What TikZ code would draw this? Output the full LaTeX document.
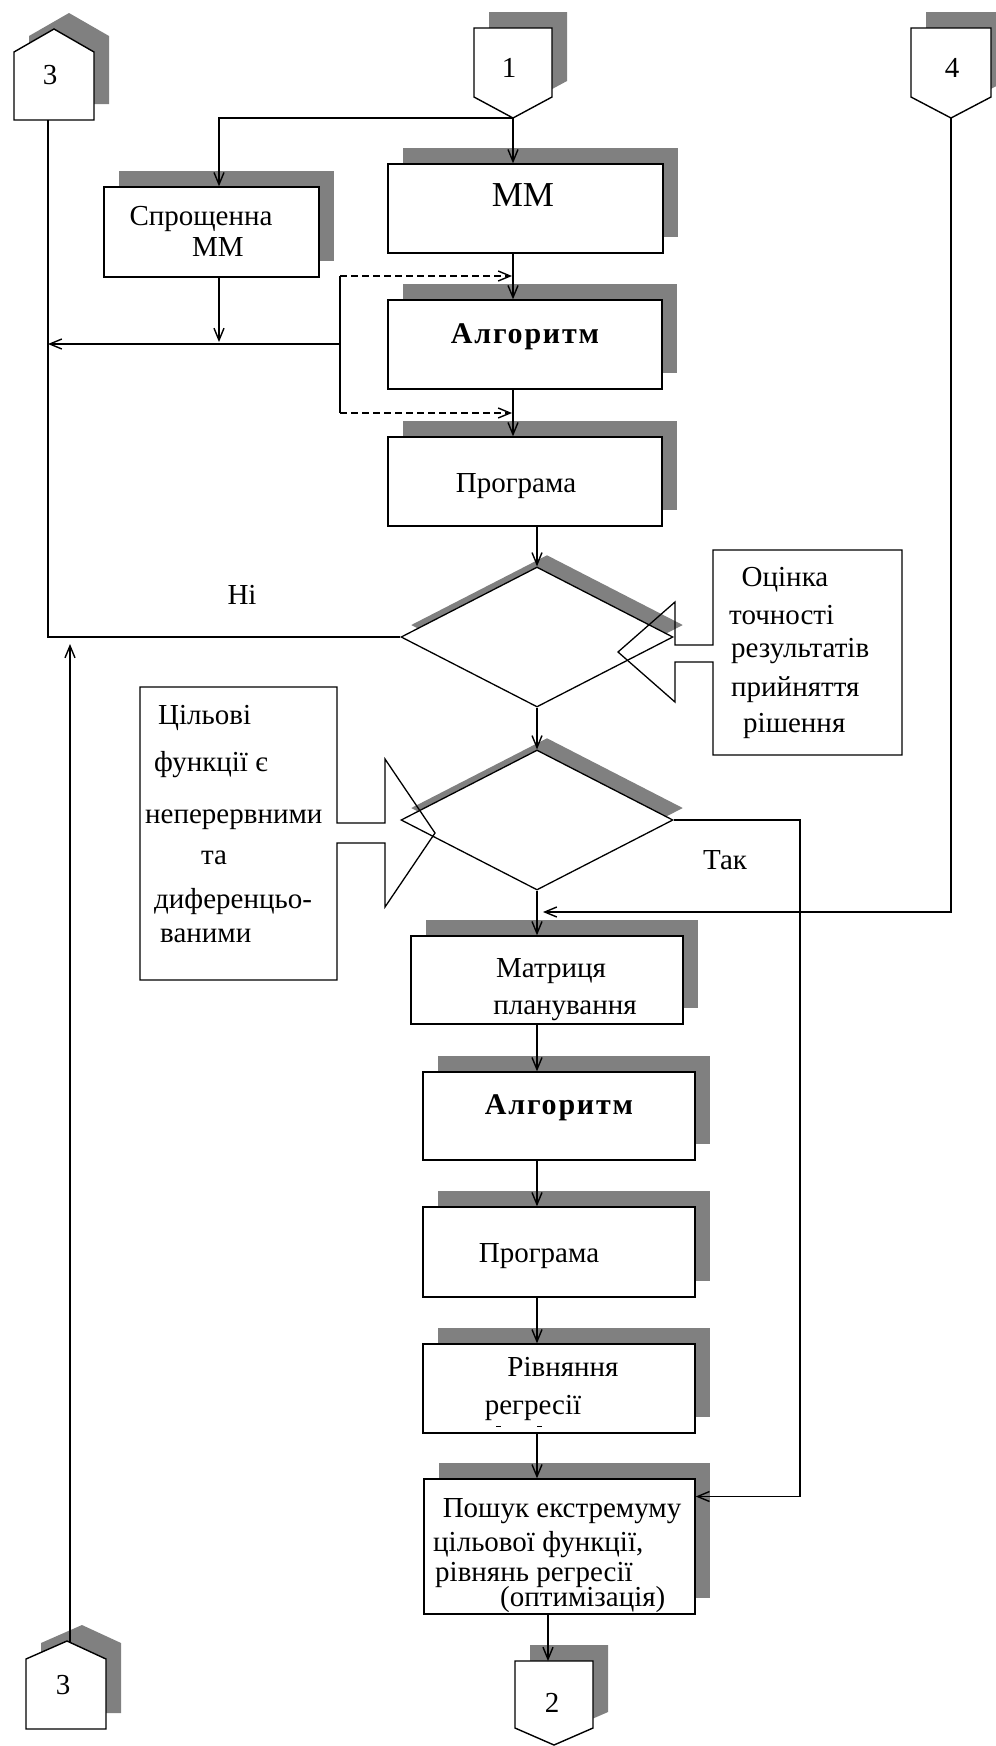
\documentclass[tikz,border=0pt]{standalone}
\usepackage{fontspec}
\setmainfont{Liberation Serif}
\usetikzlibrary{arrows.meta,shapes.geometric,shadows,calc}
\definecolor{shgray}{RGB}{128,128,128}
\begin{document}
\begin{tikzpicture}[x=1pt,y=-1pt,
  ln/.style={line width=1.4pt},
  arr/.style={line width=1.4pt,-{Straight Barb[length=12pt,width=10pt]}},
  shd/.style={drop shadow={shadow xshift=15pt,shadow yshift=16pt,opacity=1,fill=shgray}},
  dshd/.style={drop shadow={shadow xshift=10pt,shadow yshift=12pt,opacity=1,fill=shgray}},
  box/.style={draw,fill=white,line width=1.4pt,inner sep=0pt,shd},
  dec/.style={diamond,draw,fill=white,line width=1.3pt,inner sep=0pt,minimum width=272pt,minimum height=140pt,dshd},
  txt/.style={inner sep=0pt,text height=19pt,text depth=0pt,font=\fontsize{29}{34}\selectfont},
  big/.style={inner sep=0pt,text height=23pt,text depth=0pt,font=\fontsize{35}{40}\selectfont},
  alg/.style={inner sep=0pt,text height=20pt,text depth=0pt,font=\fontsize{30}{36}\selectfont\bfseries\addfontfeature{LetterSpace=6.0}}
]
\fill[white] (0,0) rectangle (996,1746);
\useasboundingbox (0,0) rectangle (996,1746);

% ---------- off-page connectors ----------
\path[draw,fill=white,line width=1.4pt,shd] (14,52) -- (54,29) -- (94,52) -- (94,120) -- (14,120) -- cycle;
\node[txt] (c3a) at (50,75) {3};
\coordinate (c3b) at (48,120);

\path[draw,fill=white,line width=1.4pt,shd] (474,28) -- (552,28) -- (552,97) -- (513,118) -- (474,97) -- cycle;
\node[txt] (c1) at (509,68) {1};
\coordinate (c1tip) at (513,118);

\path[draw,fill=white,line width=1.4pt,shd] (911,28) -- (991,28) -- (991,97) -- (951,118) -- (911,97) -- cycle;
\node[txt] (c4) at (952,68) {4};
\coordinate (c4tip) at (951,118);

\path[draw,fill=white,line width=1.4pt,shd] (26,1659) -- (67,1641) -- (106,1659) -- (106,1729) -- (26,1729) -- cycle;
\node[txt] (c3c) at (63,1685) {3};
\coordinate (c3t) at (70,1642);

\path[draw,fill=white,line width=1.4pt,shd] (515,1661) -- (593,1661) -- (593,1728) -- (554,1745) -- (515,1728) -- cycle;
\node[txt] (c2) at (552,1703) {2};
\coordinate (c2top) at (548,1661);

% ---------- process boxes ----------
\node[box,minimum width=215pt,minimum height=90pt] (spr) at (211.5,232) {};
\node[txt] (sprA) at (201,216) {Спрощенна};
\node[txt] (sprB) at (218,247) {ММ};

\node[box,minimum width=275pt,minimum height=89pt] (mm) at (525.5,208.5) {};
\node[big] (mmT) at (523,195) {ММ};

\node[box,minimum width=274pt,minimum height=89pt] (alg1) at (525,344.5) {};
\node[alg] (alg1T) at (525,333) {Алгоритм};

\node[box,minimum width=274pt,minimum height=89pt] (prog1) at (525,481.5) {};
\node[txt] (prog1T) at (516,483) {Програма};

\node[box,minimum width=272pt,minimum height=88pt] (matr) at (547,980) {};
\node[txt] (matrA) at (551,968) {Матриця};
\node[txt] (matrB) at (565,1005) {планування};

\node[box,minimum width=272pt,minimum height=88pt] (alg2) at (559,1116) {};
\node[alg] (alg2T) at (559,1104) {Алгоритм};

\node[box,minimum width=272pt,minimum height=90pt] (prog2) at (559,1252) {};
\node[txt] (prog2T) at (539,1253) {Програма};

\node[box,minimum width=272pt,minimum height=89pt] (rivn) at (559,1388.5) {};
\node[txt] (rivnA) at (563,1367) {Рівняння};
\node[txt] (rivnB) at (533,1405) {регресії};
\draw[line width=1pt] (496,1426) -- (501,1426) (537,1426) -- (542,1426);

\node[box,minimum width=271pt,minimum height=135pt] (posh) at (559.5,1546.5) {};
\node[txt] (poshA) at (562,1508) {Пошук екстремуму};
\node[txt,anchor=west] (poshB) at (433,1542) {цільової функції,};
\node[txt,anchor=west] (poshC) at (435,1572) {рівнянь регресії};
\node[txt,anchor=west] (poshD) at (500,1597) {(оптимізація)};

% ---------- decisions ----------
\node[dec] (d1) at (537,637) {};
\node[dec] (d2) at (537,820) {};

% ---------- callouts ----------
\draw[line width=1.3pt] (713,645) -- (675,645) -- (675,602) -- (618,652) -- (675,702) -- (675,662) -- (713,662)
  -- (713,755) -- (902,755) -- (902,550) -- (713,550) -- cycle;
\node[txt] (ocA) at (785,577) {Оцінка};
\node[txt,anchor=west] (ocB) at (729,615) {точності};
\node[txt,anchor=west] (ocC) at (731,648) {результатів};
\node[txt,anchor=west] (ocD) at (731,687) {прийняття};
\node[txt,anchor=west] (ocE) at (743,723) {рішення};

\draw[line width=1.3pt] (337,823) -- (385,823) -- (385,759) -- (435,833) -- (385,907) -- (385,843) -- (337,843)
  -- (337,980) -- (140,980) -- (140,687) -- (337,687) -- cycle;
\node[txt,anchor=west] (ciA) at (158,715) {Цільові};
\node[txt,anchor=west] (ciB) at (154,762) {функції є};
\node[txt,anchor=west] (ciC) at (145,814) {неперервними};
\node[txt] (ciD) at (214,855) {та};
\node[txt,anchor=west] (ciE) at (154,899) {диференцьо-};
\node[txt,anchor=west] (ciF) at (160,933) {ваними};

% ---------- labels ----------
\node[txt] (ni) at (242,595) {Ні};
\node[txt] (tak) at (725,860) {Так};

% ---------- connectors ----------
\draw[arr] (c1tip) -- (c1tip |- mm.north);
\draw[arr] (c1tip) -| ($(spr.north)+(7.5,0)$);
\draw[arr] (mm.south -| c1tip) -- (alg1.north -| c1tip);
\draw[arr] (alg1.south -| c1tip) -- (prog1.north -| c1tip);

\coordinate (dtop) at (340,276);
\coordinate (dbot) at (340,413);
\coordinate (jx) at (340,344);
\draw[arr,dash pattern=on 7pt off 4pt] (dtop) -- ($(dtop -| c1tip)+(-1,0)$);
\draw[ln] (dtop) -- (dbot);
\draw[arr,dash pattern=on 7pt off 4pt] (dbot) -- ($(dbot -| c1tip)+(-1,0)$);
\draw[arr] (jx) -- (jx -| c3b);
\draw[arr] ($(spr.south)+(7.5,0)$) -- ($(jx -| spr.south)+(7.5,-2)$);
\draw[ln] (c3b) -- (c3b |- d1.west) -- (d1.west);
\draw[arr] (c3t) -- ($(c3t |- d1.west)+(0,7)$);

\draw[arr] (prog1.south -| d1.north) -- (d1.north);
\draw[arr] (d1.south) -- (d2.north);
\coordinate (tk) at (800,0);
\coordinate (poshin) at ($(posh.east)+(0,-50)$);
\draw[arr] (d2.east) -| (tk |- poshin) -- (poshin);
\coordinate (c4turn) at (951,912);
\draw[arr] (c4tip) -- (c4turn) -- ($(c4turn -| d2.south)+(6,0)$);
\draw[arr] (d2.south) -- (matr.north -| d2.south);
\draw[arr] (matr.south -| d2.south) -- (alg2.north -| d2.south);
\draw[arr] (alg2.south -| d2.south) -- (prog2.north -| d2.south);
\draw[arr] (prog2.south -| d2.south) -- (rivn.north -| d2.south);
\draw[arr] (rivn.south -| d2.south) -- (posh.north -| d2.south);
\draw[arr] (posh.south -| c2top) -- (c2top);
\end{tikzpicture}
\end{document}
